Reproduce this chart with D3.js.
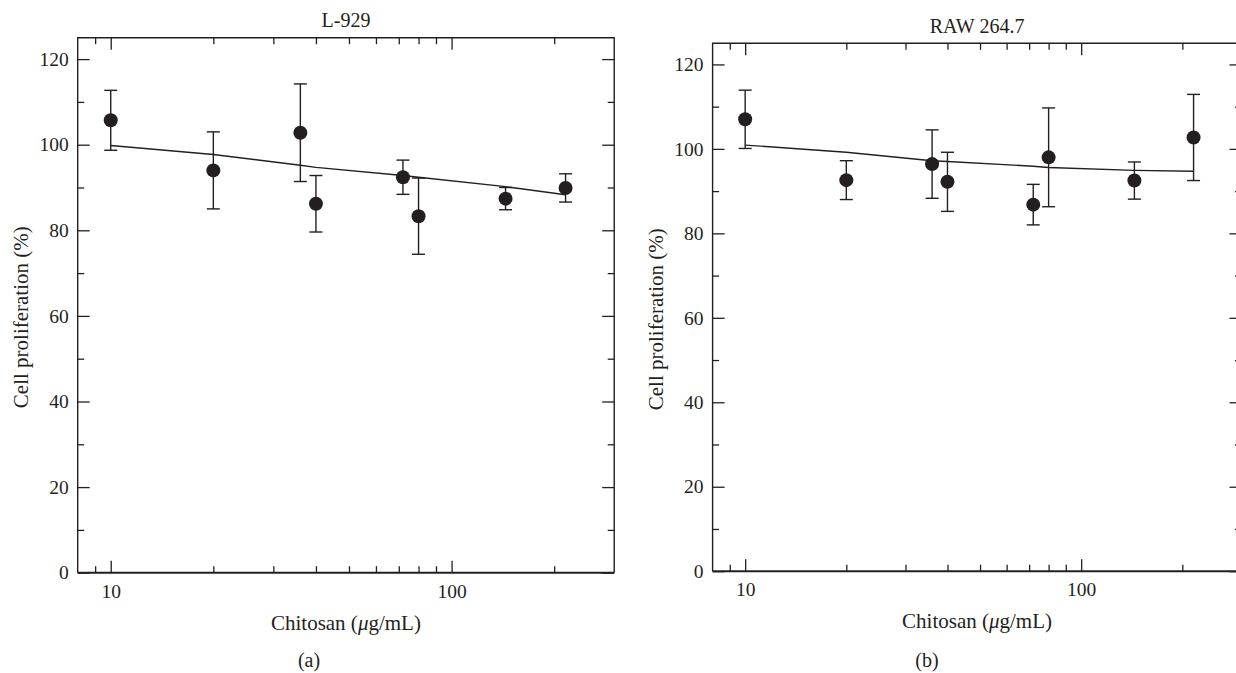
<!DOCTYPE html>
<html>
<head>
<meta charset="utf-8">
<script src="https://cdn.jsdelivr.net/npm/d3@7"></script>
<style>
  html, body { margin: 0; padding: 0; background: #fff; }
  svg { display: block; }
  text { font-family: "Liberation Serif", "DejaVu Serif", serif; fill: #231f20; }
</style>
</head>
<body>
<svg id="chart" width="1236" height="673"></svg>
<script>
// Chitosan concentrations (µg/mL), shared by both cell lines
const doses = [10, 20, 36, 40, 72, 80, 144, 216];

// L-929 fibroblasts: mean proliferation (%), error, fitted trend
const l929Mean = [105.7, 94.0, 102.8, 86.2, 92.4, 83.3, 87.4, 89.9];
const l929Err  = [7.0, 9.0, 11.4, 6.6, 4.0, 8.9, 2.6, 3.3];
const l929Fit  = [99.8, 97.7, 95.2, 94.7, 92.8, 92.4, 90.2, 88.3];

// RAW 264.7 macrophages
const rawMean = [107.0, 92.6, 96.4, 92.2, 86.8, 98.0, 92.5, 102.7];
const rawErr  = [6.9, 4.6, 8.1, 7.0, 4.8, 11.7, 4.4, 10.2];
const rawFit  = [100.9, 99.2, 97.2, 97.0, 95.9, 95.6, 94.9, 94.7];

// Axis ticks
const xMajor = [10, 100];
const xMinor = [9, 20, 30, 40, 50, 60, 70, 80, 90, 200];
const yMajor = [0, 20, 40, 60, 80, 100, 120];
const yMinor = [10, 30, 50, 70, 90, 110];

const xDomain = [8, 300];
const yDomain = [0, 125];

const panels = [
  { title: "L-929", tag: "(a)", mean: l929Mean, err: l929Err, fit: l929Fit,
    left: 77.7, right: 614.2, top: 37.7, bottom: 572.7, tagX: 309 },
  { title: "RAW 264.7", tag: "(b)", mean: rawMean, err: rawErr, fit: rawFit,
    left: 712.6, right: 1241.5, top: 43.3, bottom: 571.2, tagX: 927 }
];

const ink = "#231f20";
const svg = d3.select("#chart");
svg.append("rect").attr("width", 1236).attr("height", 673).attr("fill", "#fff");

panels.forEach(p => {
  const x = d3.scaleLog().domain(xDomain).range([p.left, p.right]);
  const y = d3.scaleLinear().domain(yDomain).range([p.bottom, p.top]);
  const g = svg.append("g");

  const style = sel => {
    sel.select(".domain").remove();
    sel.selectAll(".tick line").attr("stroke", ink).attr("stroke-width", 1.3);
    sel.selectAll(".tick text").attr("fill", ink)
      .style("font-family", '"Liberation Serif", serif').style("font-size", "19.5px");
  };

  // bottom ticks (inward) with labels
  g.append("g").attr("transform", `translate(0,${p.bottom})`)
    .call(d3.axisBottom(x).tickValues(xMajor).tickSize(-12).tickPadding(11).tickFormat(d3.format("d")))
    .call(style);
  g.append("g").attr("transform", `translate(0,${p.bottom})`)
    .call(d3.axisBottom(x).tickValues(xMinor).tickSize(-6.5).tickFormat(""))
    .call(style);
  // top ticks (inward)
  g.append("g").attr("transform", `translate(0,${p.top})`)
    .call(d3.axisTop(x).tickValues(xMajor).tickSize(-12).tickFormat(""))
    .call(style);
  g.append("g").attr("transform", `translate(0,${p.top})`)
    .call(d3.axisTop(x).tickValues(xMinor).tickSize(-6.5).tickFormat(""))
    .call(style);
  // left ticks (inward) with labels
  g.append("g").attr("transform", `translate(${p.left},0)`)
    .call(d3.axisLeft(y).tickValues(yMajor).tickSize(-12).tickPadding(9).tickFormat(d3.format("d")))
    .call(style);
  g.append("g").attr("transform", `translate(${p.left},0)`)
    .call(d3.axisLeft(y).tickValues(yMinor).tickSize(-6.5).tickFormat(""))
    .call(style);
  // right ticks (inward)
  g.append("g").attr("transform", `translate(${p.right},0)`)
    .call(d3.axisRight(y).tickValues(yMajor).tickSize(-12).tickFormat(""))
    .call(style);
  g.append("g").attr("transform", `translate(${p.right},0)`)
    .call(d3.axisRight(y).tickValues(yMinor).tickSize(-6.5).tickFormat(""))
    .call(style);

  // frame
  g.append("path")
    .attr("d", `M${p.left},${p.bottom}V${p.top}H${p.right}V${p.bottom}`)
    .attr("fill", "none").attr("stroke", ink).attr("stroke-width", 1.4);
  g.append("line")
    .attr("x1", p.left).attr("x2", p.right).attr("y1", p.bottom).attr("y2", p.bottom)
    .attr("stroke", ink).attr("stroke-width", 2);

  const rows = doses.map((d, i) => ({ d, m: p.mean[i], e: p.err[i], f: p.fit[i] }));

  // fitted trend
  g.append("path").datum(rows)
    .attr("d", d3.line().x(r => x(r.d)).y(r => y(r.f)))
    .attr("fill", "none").attr("stroke", ink).attr("stroke-width", 1.4);

  // error bars
  const eb = g.append("g").attr("stroke", ink).attr("stroke-width", 1.4);
  rows.forEach(r => {
    const cx = x(r.d);
    eb.append("line").attr("x1", cx).attr("x2", cx).attr("y1", y(r.m - r.e)).attr("y2", y(r.m + r.e));
    eb.append("line").attr("x1", cx - 6.5).attr("x2", cx + 6.5).attr("y1", y(r.m + r.e)).attr("y2", y(r.m + r.e));
    eb.append("line").attr("x1", cx - 6.5).attr("x2", cx + 6.5).attr("y1", y(r.m - r.e)).attr("y2", y(r.m - r.e));
  });

  // means
  g.append("g").selectAll("circle").data(rows).join("circle")
    .attr("cx", r => x(r.d)).attr("cy", r => y(r.m)).attr("r", 7)
    .attr("fill", ink);

  // labels
  const cx = (p.left + p.right) / 2;
  g.append("text").attr("x", cx).attr("y", p.top - 10.5).attr("text-anchor", "middle")
    .style("font-size", "20px").text(p.title);
  g.append("text").attr("x", cx).attr("y", p.bottom + 57).attr("text-anchor", "middle")
    .style("font-size", "21px")
    .call(t => {
      t.append("tspan").text("Chitosan (");
      t.append("tspan").style("font-style", "italic").text("\u03bc");
      t.append("tspan").text("g/mL)");
    });
  g.append("text")
    .attr("transform", `translate(${p.left - 50},${(p.top + p.bottom) / 2 + 12}) rotate(-90)`)
    .attr("text-anchor", "middle").style("font-size", "21px")
    .text("Cell proliferation (%)");
  g.append("text").attr("x", p.tagX).attr("y", 667).attr("text-anchor", "middle")
    .style("font-size", "20px").text(p.tag);
});
</script>
</body>
</html>
